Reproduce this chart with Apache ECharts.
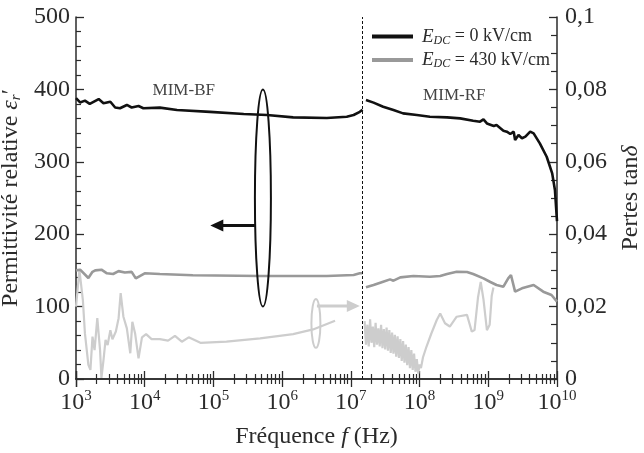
<!DOCTYPE html>
<html>
<head>
<meta charset="utf-8">
<script src="https://cdn.jsdelivr.net/npm/echarts@6/dist/echarts.min.js"></script>
<style>
  html, body { margin: 0; padding: 0; background: #fff; }
  #chartmain { width: 644px; height: 453px; }
</style>
</head>
<body>
<div id="chartmain"></div>
<script>
// frequencies are read as log10(f)
// E_DC = 0 kV/cm, permittivity, MIM-BF
var bfLogF0 = [3.00, 3.06, 3.13, 3.20, 3.33, 3.40, 3.50, 3.57, 3.64, 3.74, 3.81, 3.91, 3.98, 4.22, 4.47, 4.95, 5.44, 5.78, 6.16, 6.65, 6.94, 7.04, 7.13, 7.17];
var bfPerm0 = [388, 382, 384.5, 380, 386.7, 381, 383, 375, 374, 378.5, 375, 377, 374, 374.8, 371.5, 369, 366, 364.6, 361.4, 360.5, 362.3, 364.6, 369, 372];
// E_DC = 0 kV/cm, permittivity, MIM-RF
var rfLogF0 = [7.22, 7.33, 7.47, 7.62, 7.76, 7.96, 8.15, 8.40, 8.59, 8.78, 8.88, 8.93, 8.98, 9.08, 9.12, 9.22, 9.27, 9.32, 9.37, 9.39, 9.44, 9.49, 9.54, 9.61, 9.66, 9.75, 9.85, 9.93, 9.97, 10.0];
var rfPerm0 = [385.4, 381.7, 376.1, 371.5, 366.9, 364.6, 362.3, 361.4, 360, 356.8, 355.4, 358.6, 353, 349.4, 350.8, 343, 341.6, 338.4, 341.6, 330, 337, 332.5, 334.7, 341.6, 339.3, 325.5, 307, 284, 261, 218];

// E_DC = 430 kV/cm, permittivity
var bfLogF430 = [3.00, 3.06, 3.18, 3.24, 3.28, 3.37, 3.45, 3.54, 3.62, 3.71, 3.81, 3.87, 4.00, 4.22, 4.70, 5.68, 6.65, 7.04, 7.13, 7.17];
var bfPerm430 = [150, 151, 139.5, 148, 150, 151, 146, 145, 149, 147, 148, 139, 146, 145, 143.2, 142.3, 142.3, 143.6, 146, 146];
var rfLogF430 = [7.22, 7.33, 7.47, 7.57, 7.62, 7.72, 7.91, 8.15, 8.30, 8.40, 8.54, 8.69, 8.78, 8.93, 9.03, 9.12, 9.22, 9.29, 9.33, 9.39, 9.49, 9.66, 9.80, 9.92, 10.0];
var rfPerm430 = [126.6, 129.8, 134.4, 137.6, 135.8, 140.4, 142.3, 141.3, 142.3, 145, 148.2, 147.8, 145, 139, 134, 129.8, 127.5, 139, 143.6, 120.6, 125.2, 129.8, 120.6, 116, 106.8];

// loss tangent (right axis)
var bfLogFTan = [3.00, 3.05, 3.10, 3.13, 3.18, 3.21, 3.24, 3.27, 3.31, 3.35, 3.37, 3.40, 3.43, 3.46, 3.50, 3.53, 3.58, 3.62, 3.65, 3.69, 3.74, 3.79, 3.82, 3.86, 3.91, 3.96, 4.02, 4.10, 4.22, 4.34, 4.44, 4.54, 4.64, 4.81, 5.19, 5.68, 6.16, 6.45, 6.77];
var bfTan = [0.020, 0.0301, 0.0218, 0.0126, 0.0039, 0.0025, 0.0117, 0.0080, 0.0168, 0.0080, 0.0003, 0.0052, 0.0108, 0.0094, 0.0135, 0.0110, 0.0131, 0.0168, 0.0237, 0.0172, 0.0140, 0.0071, 0.0158, 0.0126, 0.0057, 0.0115, 0.0124, 0.0110, 0.0110, 0.0106, 0.0119, 0.0103, 0.0115, 0.0100, 0.0103, 0.0112, 0.0124, 0.0137, 0.0161];
var rfLogFTan = [7.20, 7.22, 7.24, 7.26, 7.28, 7.30, 7.32, 7.34, 7.36, 7.38, 7.40, 7.42, 7.44, 7.46, 7.48, 7.50, 7.52, 7.54, 7.56, 7.58, 7.60, 7.62, 7.64, 7.66, 7.68, 7.70, 7.72, 7.74, 7.76, 7.78, 7.80, 7.82, 7.84, 7.86, 7.88, 7.90, 7.92, 7.94, 7.96, 7.98, 8.00, 8.02, 8.05, 8.10, 8.17, 8.25, 8.30, 8.37, 8.44, 8.54, 8.69, 8.76, 8.80, 8.85, 8.89, 8.93, 8.98, 9.02, 9.05, 9.075];
var rfTan = [0.0160, 0.0095, 0.0150, 0.0090, 0.0165, 0.0100, 0.0145, 0.0088, 0.0155, 0.0095, 0.0140, 0.0090, 0.0150, 0.0085, 0.0138, 0.0082, 0.0142, 0.0078, 0.0135, 0.0072, 0.0128, 0.0070, 0.0122, 0.0062, 0.0118, 0.0058, 0.0110, 0.0050, 0.0105, 0.0045, 0.0095, 0.0038, 0.0088, 0.0030, 0.0080, 0.0025, 0.0070, 0.0020, 0.0055, 0.0015, 0.0040, 0.0030, 0.0060, 0.0089, 0.0125, 0.0163, 0.0181, 0.0154, 0.0145, 0.0172, 0.0177, 0.0131, 0.0135, 0.0225, 0.0268, 0.0220, 0.0135, 0.0150, 0.0230, 0.0253];

var yLeftTicks = [0, 100, 200, 300, 400, 500];
var yRightTicks = [0, 0.02, 0.04, 0.06, 0.08, 0.1];
var boundaryF = 1.48e7; // MIM-BF / MIM-RF

var serif = '"Liberation Serif", "Times New Roman", serif';
var ink = '#2b2b2b';
var fs = 24;

function pairs(logF, vals) {
    return logF.map(function (e, i) { return [Math.pow(10, e), vals[i]]; });
}

var myChart = echarts.init(document.getElementById('chartmain'));

var axisCommon = {
    type: 'log',
    logBase: 10,
    min: 1e3,
    max: 1e10,
    splitNumber: 7,
    axisLine: { show: true, lineStyle: { color: ink, width: 1.5 } },
    axisTick: { show: true, inside: true, length: 8, lineStyle: { color: ink, width: 1.3 } },
    minorTick: { show: true, splitNumber: 9, length: 5, lineStyle: { color: ink, width: 1.2 } },
    splitLine: { show: false }
};

var option = {
    animation: false,
    backgroundColor: '#fff',
    textStyle: { fontFamily: serif },
    grid: { left: 76, right: 87, top: 17, bottom: 74, containLabel: false, outerBoundsMode: 'none' },
    legend: {
        data: ['E0', 'E430'],
        orient: 'vertical',
        left: 367,
        top: 22,
        icon: 'rect',
        itemWidth: 41,
        itemHeight: 4,
        itemGap: 4,
        selectedMode: false,
        formatter: function (name) {
            return name === 'E0' ? '{i|E}{s|DC}{n| = 0 kV/cm}' : '{i|E}{s|DC}{n| = 430 kV/cm}';
        },
        textStyle: {
            fontFamily: serif,
            color: ink,
            padding: [0, 0, 0, 4],
            rich: {
                i: { fontSize: 19, fontStyle: 'italic', fontFamily: serif, color: ink, lineHeight: 20 },
                s: { fontSize: 12, fontStyle: 'italic', fontFamily: serif, color: ink, verticalAlign: 'bottom', lineHeight: 20 },
                n: { fontSize: 18, fontFamily: serif, color: ink, lineHeight: 20 }
            }
        }
    },
    xAxis: [
        echarts.util.merge({
            position: 'bottom',
            name: 'Fréquence {i|f} (Hz)',
            nameLocation: 'middle',
            nameGap: 46,
            nameTextStyle: {
                fontFamily: serif, fontSize: fs, color: ink,
                rich: { i: { fontFamily: serif, fontSize: fs, fontStyle: 'italic', color: ink } }
            },
            axisLabel: {
                margin: 10,
                formatter: function (v) {
                    return '{b|10}{s|' + Math.round(Math.log(v) / Math.LN10) + '}';
                },
                rich: {
                    b: { fontFamily: serif, fontSize: fs, color: ink, lineHeight: 28 },
                    s: { fontFamily: serif, fontSize: 15, color: ink, verticalAlign: 'top', lineHeight: 15 }
                }
            }
        }, axisCommon, true),
        echarts.util.merge({
            position: 'top',
            axisLabel: { show: false }
        }, axisCommon, true)
    ],
    yAxis: [{
        type: 'value',
        min: yLeftTicks[0],
        max: yLeftTicks[yLeftTicks.length - 1],
        interval: yLeftTicks[1] - yLeftTicks[0],
        position: 'left',
        name: 'Permittivité relative {i|ε}{s|r}{n|′}',
        nameLocation: 'middle',
        nameGap: 52,
        nameTextStyle: {
            fontFamily: serif, fontSize: fs, color: ink,
            rich: {
                i: { fontFamily: serif, fontSize: fs, fontStyle: 'italic', color: ink },
                s: { fontFamily: serif, fontSize: 15, fontStyle: 'italic', color: ink, verticalAlign: 'bottom' },
                n: { fontFamily: serif, fontSize: fs, color: ink }
            }
        },
        axisLine: { show: true, lineStyle: { color: ink, width: 1.5 } },
        axisTick: { show: true, inside: true, length: 8, lineStyle: { color: ink, width: 1.3 } },
        minorTick: { show: true, splitNumber: 5, length: 5, lineStyle: { color: ink, width: 1.2 } },
        splitLine: { show: false },
        axisLabel: { fontFamily: serif, fontSize: fs, color: ink, margin: 6 }
    }, {
        type: 'value',
        min: yRightTicks[0],
        max: yRightTicks[yRightTicks.length - 1],
        interval: yRightTicks[1] - yRightTicks[0],
        position: 'right',
        name: 'Pertes tan{i|δ}',
        nameLocation: 'middle',
        nameGap: 62,
        nameTextStyle: {
            fontFamily: serif, fontSize: fs, color: ink,
            rich: { i: { fontFamily: serif, fontSize: fs, fontStyle: 'italic', color: ink } }
        },
        axisLine: { show: true, lineStyle: { color: ink, width: 1.5 } },
        axisTick: { show: true, inside: true, length: 8, lineStyle: { color: ink, width: 1.3 } },
        minorTick: { show: true, splitNumber: 4, length: 6, lineStyle: { color: ink, width: 1.2 } },
        splitLine: { show: false },
        axisLabel: {
            fontFamily: serif, fontSize: fs, color: ink, margin: 8,
            formatter: function (v) {
                return v === 0 ? '0' : String(+v.toFixed(2)).replace('.', ',');
            }
        }
    }],
    series: [{
        name: 'E0', type: 'line', showSymbol: false, symbol: 'none',
        data: pairs(bfLogF0, bfPerm0),
        lineStyle: { color: '#111', width: 2.6 }, itemStyle: { color: '#111' }, z: 4,
        markLine: {
            silent: true, symbol: 'none', label: { show: false },
            lineStyle: { color: '#111', width: 1, type: [3, 2] },
            data: [{ xAxis: boundaryF }]
        }
    }, {
        name: 'E0', type: 'line', showSymbol: false, symbol: 'none',
        data: pairs(rfLogF0, rfPerm0),
        lineStyle: { color: '#111', width: 2.6 }, itemStyle: { color: '#111' }, z: 4
    }, {
        name: 'E430', type: 'line', showSymbol: false, symbol: 'none',
        data: pairs(bfLogF430, bfPerm430),
        lineStyle: { color: '#999', width: 2.6 }, itemStyle: { color: '#999' }, z: 3
    }, {
        name: 'E430', type: 'line', showSymbol: false, symbol: 'none',
        data: pairs(rfLogF430, rfPerm430),
        lineStyle: { color: '#999', width: 2.6 }, itemStyle: { color: '#999' }, z: 3
    }, {
        name: 'tan0', type: 'line', showSymbol: false, symbol: 'none', yAxisIndex: 1,
        data: pairs(bfLogFTan, bfTan),
        lineStyle: { color: '#cdcdcd', width: 2.2 }, z: 2
    }, {
        name: 'tan1', type: 'line', showSymbol: false, symbol: 'none', yAxisIndex: 1,
        data: pairs(rfLogFTan, rfTan),
        lineStyle: { color: '#cdcdcd', width: 2.2 }, z: 2
    }]
};

myChart.setOption(option);

// annotations: ellipses, arrows and region labels
var pL = function (f, v) { return myChart.convertToPixel({ xAxisIndex: 0, yAxisIndex: 0 }, [f, v]); };
var pR = function (f, v) { return myChart.convertToPixel({ xAxisIndex: 0, yAxisIndex: 1 }, [f, v]); };

var e1Top = pL(5.25e5, 400), e1Bot = pL(5.25e5, 100);
var e1 = { cx: e1Top[0], cy: (e1Top[1] + e1Bot[1]) / 2, rx: 8, ry: (e1Bot[1] - e1Top[1]) / 2 };
var a1Tip = pL(9e4, 212);

var e2Top = pR(3.1e6, 0.0221), e2Bot = pR(3.1e6, 0.0086);
var e2 = { cx: e2Top[0], cy: (e2Top[1] + e2Bot[1]) / 2, rx: 4.5, ry: (e2Bot[1] - e2Top[1]) / 2 };
var a2Tip = pR(1.35e7, 0.0202);

var bfPos = pL(3.7e4, 399), rfPos = pL(3.2e8, 392);

myChart.setOption({
    graphic: [
        { type: 'ellipse', shape: e1, style: { fill: 'none', stroke: '#111', lineWidth: 2 }, z: 10 },
        { type: 'line', shape: { x1: e1.cx - e1.rx, y1: a1Tip[1], x2: a1Tip[0] + 10, y2: a1Tip[1] }, style: { stroke: '#111', lineWidth: 3 }, z: 10 },
        { type: 'polygon', shape: { points: [[a1Tip[0], a1Tip[1]], [a1Tip[0] + 13, a1Tip[1] - 6], [a1Tip[0] + 13, a1Tip[1] + 6]] }, style: { fill: '#111' }, z: 10 },
        { type: 'ellipse', shape: e2, style: { fill: 'none', stroke: '#cdcdcd', lineWidth: 2 }, z: 10 },
        { type: 'line', shape: { x1: e2.cx + 1, y1: a2Tip[1], x2: a2Tip[0] - 10, y2: a2Tip[1] }, style: { stroke: '#cdcdcd', lineWidth: 3 }, z: 10 },
        { type: 'polygon', shape: { points: [[a2Tip[0], a2Tip[1]], [a2Tip[0] - 13, a2Tip[1] - 6], [a2Tip[0] - 13, a2Tip[1] + 6]] }, style: { fill: '#cdcdcd' }, z: 10 },
        { type: 'text', x: bfPos[0], y: bfPos[1], style: { text: 'MIM-BF', font: '17px ' + serif, fill: '#444', align: 'center', verticalAlign: 'middle' }, z: 10 },
        { type: 'text', x: rfPos[0], y: rfPos[1], style: { text: 'MIM-RF', font: '17px ' + serif, fill: '#444', align: 'center', verticalAlign: 'middle' }, z: 10 }
    ]
});
</script>
</body>
</html>
